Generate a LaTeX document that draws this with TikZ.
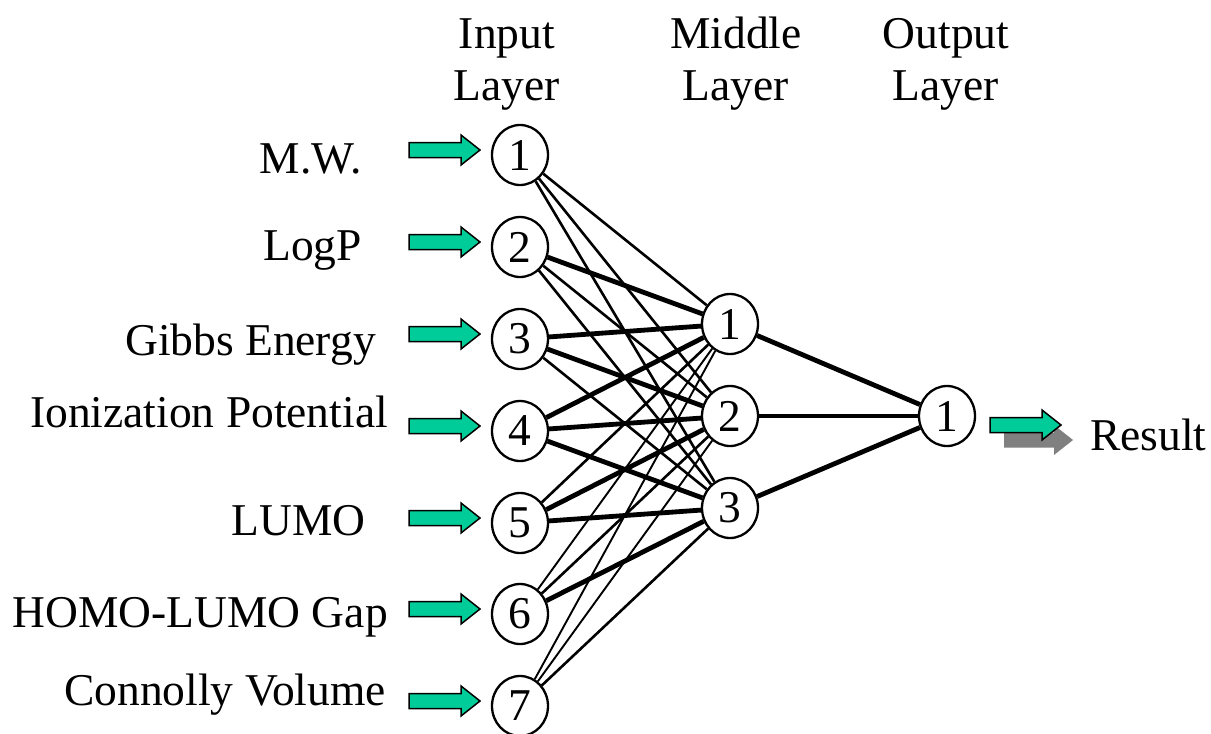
\documentclass[tikz,border=0pt]{standalone}
\usepackage{fontspec}
\setmainfont{Liberation Serif}
\usetikzlibrary{shapes.geometric}
\definecolor{agreen}{RGB}{0,204,153}
\definecolor{agray}{RGB}{128,128,128}
\newcommand\fs{\fontsize{45.5}{52}\selectfont}
\begin{document}
\begin{tikzpicture}[x=1pt,y=-1pt,
  neuron/.style={ellipse,draw,line width=2.3pt,minimum width=56pt,minimum height=60pt,inner sep=0pt,fill=white,font=\fs},
  lbl/.style={anchor=base east,inner sep=0pt,font=\fs},
  hdr/.style={anchor=base,inner sep=0pt,font=\fs},
  wa/.style={line width=1.9pt},
  wb/.style={line width=2.6pt},
  wc/.style={line width=4.8pt},
  garrow/.pic={\path[fill=agreen,draw=black,line width=1.5pt,line join=miter]
    (0,-7.5) -- (52,-7.5) -- (52,-15) -- (71,0) -- (52,15) -- (52,7.5) -- (0,7.5) -- cycle;},
  sarrow/.pic={\path[fill=agray]
    (0,-7.5) -- (50,-7.5) -- (50,-15) -- (69,0) -- (50,15) -- (50,7.5) -- (0,7.5) -- cycle;}
]
\useasboundingbox (0,0) rectangle (1211,734);
% headers
\node[hdr] (h1a) at (507,48) {Input};
\node[hdr] (h1b) at (507,100) {Layer};
\node[hdr] (h2a) at (736,48) {Middle};
\node[hdr] (h2b) at (736,100) {Layer};
\node[hdr] (h3a) at (946,48) {Output};
\node[hdr] (h3b) at (946,100) {Layer};
% input nodes
\foreach \i/\y in {1/155,2/247,3/339,4/431,5/523,6/614,7/706}
  \node[neuron] (i\i) at (520,\y) {\i};
% middle nodes
\foreach \j/\y in {1/324,2/416,3/508}
  \node[neuron] (m\j) at (730,\y) {\j};
% output node
\node[neuron] (o1) at (947,416) {1};
% labels
\node[lbl] (l1) at (362,173) {M.W.};
\node[lbl] (l2) at (362,260) {LogP};
\node[lbl] (l3) at (376,355) {Gibbs Energy};
\node[lbl] (l4) at (388,427) {Ionization Potential};
\node[lbl] (l5) at (366,535) {LUMO};
\node[lbl] (l6) at (388,627) {HOMO-LUMO Gap};
\node[lbl] (l7) at (386,705) {Connolly Volume};
\node[anchor=base west,inner sep=0pt,font=\fs] (res) at (1090,450) {Result};
% input arrows
\foreach \y in {150,242,334,426,518,609,701}
  \pic at (409,\y) {garrow};
% output arrow
\pic at (1004,440) {sarrow};
\pic at (990,425) {garrow};
% connections
\foreach \i/\j/\w in {1/1/wb,1/2/wb,1/3/wb,
                      2/1/wc,2/2/wb,2/3/wb,
                      3/1/wc,3/2/wc,3/3/wb,
                      4/1/wc,4/2/wc,4/3/wc,
                      5/1/wb,5/2/wc,5/3/wc,
                      6/1/wa,6/2/wb,6/3/wc,
                      7/1/wa,7/2/wa,7/3/wb}
  \draw[\w] (i\i) -- (m\j);
\foreach \j in {1,2,3}
  \draw[wc] (m\j) -- (o1);
\end{tikzpicture}
\end{document}
